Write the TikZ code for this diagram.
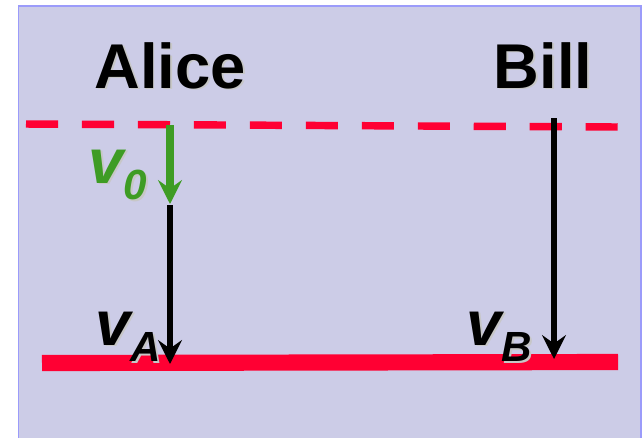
\documentclass[tikz,border=0pt]{standalone}
\usepackage{fontspec}
\setmainfont{Liberation Sans}
\usepackage{xcolor}
\usetikzlibrary{arrows.meta}

\definecolor{lavender}{RGB}{204,204,231}
\definecolor{frameblue}{RGB}{155,155,250}
\definecolor{floorred}{RGB}{255,0,51}
\definecolor{speedgreen}{RGB}{62,156,36}

\tikzset{
  who/.style={font=\fontsize{45}{54}\selectfont\bfseries, inner sep=0pt, anchor=base},
  speed/.style={font=\fontsize{45}{54}\selectfont\bfseries\itshape, inner sep=0pt, anchor=base west},
  fall/.style={line width=4.8pt, -{Stealth[length=17pt,width=17pt,inset=6pt]}},
}
% soft drop shadow behind a text
\newcommand{\dropped}[1]{{\makebox[0pt][l]{\kern1.3pt\raisebox{-1.3pt}{\color{black!22}#1}}#1}}
\newcommand{\subs}[1]{\raisebox{-12pt}{\fontsize{30}{36}\selectfont\dropped{#1}}}

\begin{document}
\begin{tikzpicture}[x=0.025cm, y=-0.025cm]
            \useasboundingbox (0,0) rectangle (642,437);
            \draw[frameblue, fill=lavender, line width=1.4pt] (18.5,6) rectangle (641,450);
            % start and floor
            \coordinate (startL) at (26,124);
            \coordinate (startR) at (618,127);
            \coordinate (floorL) at (42,363);
            \coordinate (floorR) at (618,362);
            \draw[floorred, line width=5.3pt, dash pattern=on 22.8pt off 17pt] (startL) -- (startR);
            \draw[floorred, line width=11.5pt] (floorL) -- (floorR);
            % names
            \node[who] (alice) at (170,88) {\dropped{Alice}};
            \node[who] (bill) at (543,88) {\dropped{Bill}};
            % arrows
            \coordinate (aliceTop) at (170,125);
            \coordinate (aliceMid) at (170,204);
            \coordinate (aliceHit) at (170,364);
            \coordinate (billTop) at (554,118);
            \coordinate (billHit) at (554,359);
            \draw[fall, speedgreen, line width=5.3pt] (aliceTop) -- (aliceMid);
            \draw[fall] ([yshift=-1pt]aliceMid) -- (aliceHit);
            \draw[fall] (billTop) -- (billHit);
            % speeds
            \node[speed, speedgreen] (vnull) at (88,183) {\dropped{v}\subs{0}};
            \node[speed] (vA) at (95,345) {\dropped{v}\subs{A}};
            \node[speed] (vB) at (466,345) {\dropped{v}\subs{B}};
        \end{tikzpicture}
\end{document}
